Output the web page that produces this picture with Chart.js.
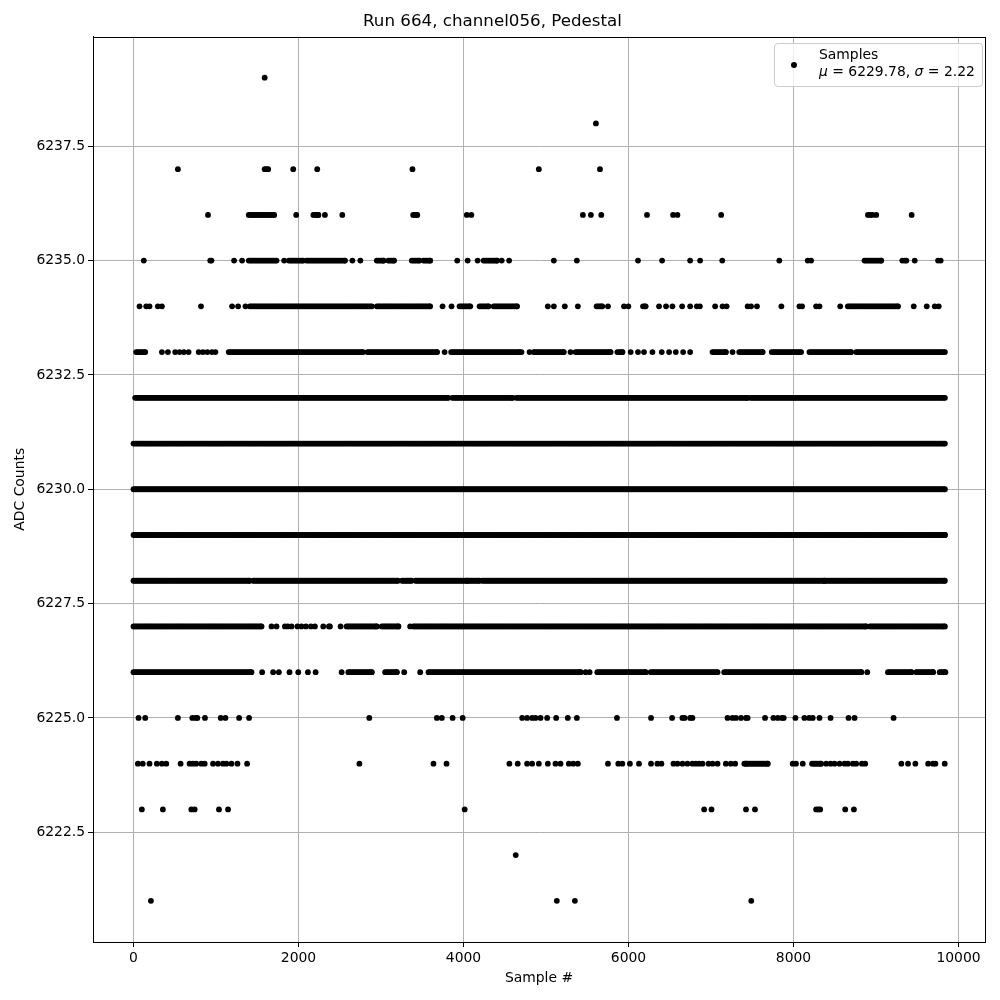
<!DOCTYPE html>
<html>
<head>
<meta charset="utf-8">
<script src="https://cdn.jsdelivr.net/npm/chart.js@4.4.1/dist/chart.umd.min.js"></script>
<style>
  html, body { margin: 0; padding: 0; background: #fff; }
  #wrap { position: relative; width: 1000px; height: 1000px; }
  #legend { position: absolute; left: 774px; top: 43px; width: 209px; height: 44px;
    border: 1px solid #cccccc; border-radius: 4px; background: rgba(255,255,255,0.8);
    font-family: "DejaVu Sans", sans-serif; font-size: 13.9px; color: #000; box-sizing: border-box; }
  #legend .dot { position: absolute; left: 16px; top: 18px; width: 6px; height: 6px; border-radius: 50%; background: #000; }
  #legend .l1 { position: absolute; left: 44px; top: 2px; white-space: nowrap; }
  #legend .l2 { position: absolute; left: 44px; top: 19px; white-space: nowrap; }
</style>
</head>
<body>
<div id="wrap">
  <canvas id="c" width="1000" height="1000"></canvas>
  <div id="legend"><span class="dot"></span><span class="l1">Samples</span><span class="l2"><i>μ</i> = 6229.78, <i>σ</i> = 2.22</span></div>
</div>
<script>
// ---- tick labels ----
const xTickValues = [0, 2000, 4000, 6000, 8000, 10000];
const yTickValues = [6222.5, 6225.0, 6227.5, 6230.0, 6232.5, 6235.0, 6237.5];

// ---- ADC levels (counts) ----
const levels = [6221, 6222, 6223, 6224, 6225, 6226, 6227, 6228, 6229, 6230, 6231, 6232, 6233, 6234, 6235, 6236, 6237, 6238, 6239];

// isolated samples read per level (sample #)
const dots6239 = [1590];
const dots6238 = [5605];
const dots6237 = [538, 1590, 1610, 1632, 1936, 2227, 3381, 4913, 5654];
const dots6236 = [903, 1972, 2320, 2531, 4040, 4095, 5447, 5544, 5670, 6224, 6540, 6593, 7123, 8902, 8930, 8955, 9003, 9432];
const dots6235 = [125, 930, 945, 1219, 1316, 1826, 2653, 2750, 3924, 4050, 4171, 4463, 4553, 5095, 5374, 6115, 6407, 6747, 6868, 7136, 7828, 8172, 8213, 9319, 9350, 9368, 9469, 9752, 9784];
const dots6234 = [73, 154, 194, 295, 344, 818, 1195, 1268, 1357, 3746, 3855, 5022, 5095, 5228, 5386, 5751, 5945, 5998, 6370, 6455, 6532, 6650, 6747, 6828, 6865, 7050, 7140, 7189, 7444, 7485, 7557, 7853, 8072, 8104, 8274, 8315, 8566, 9457, 9615, 9712, 9760];
const dots6233 = [344, 417, 505, 559, 611, 668, 790, 842, 895, 951, 993, 3771, 4703, 4800, 5297, 6026, 6115, 6188, 6290, 6403, 6492, 6573, 6662, 6747, 7261];
const dots6232 = [];
const dots6231 = [];
const dots6230 = [];
const dots6229 = [];
const dots6228 = [];
const dots6227 = [1673, 1734, 1835, 1870, 1916, 1987, 2036, 2090, 2150, 2199, 2300, 2369, 2381, 2510, 3353];
const dots6226 = [1559, 1692, 1762, 1891, 1997, 2114, 2208, 2523, 3281, 3475, 5480, 5528, 8894];
const dots6225 = [61, 142, 538, 713, 753, 774, 866, 1057, 1114, 1280, 1401, 2858, 3677, 3737, 3868, 3990, 4711, 4771, 4832, 4872, 4933, 5014, 5123, 5264, 5374, 5860, 6273, 6528, 6653, 6680, 6747, 6775, 7200, 7260, 7302, 7363, 7424, 7444, 7655, 7756, 7810, 7860, 7881, 8023, 8132, 8190, 8233, 8315, 8449, 8667, 8740, 9213];
const dots6224 = [53, 112, 194, 283, 344, 397, 571, 680, 721, 761, 822, 863, 964, 1024, 1085, 1126, 1187, 1260, 1377, 2738, 3636, 3794, 4556, 4657, 4771, 4832, 4913, 5022, 5115, 5176, 5277, 5330, 5386, 5751, 5876, 5925, 6017, 6127, 6273, 6350, 6399, 6545, 6593, 6654, 6714, 6775, 6816, 6856, 6897, 6970, 7018, 7079, 7180, 7240, 7293, 7424, 7990, 8030, 8112, 8396, 8449, 8497, 8558, 8619, 8659, 8720, 8760, 8829, 8869, 9307, 9388, 9477, 9632, 9690, 9720, 9833];
const dots6223 = [101, 356, 701, 741, 1036, 1146, 4014, 6917, 7006, 7424, 7533, 8274, 8300, 8323, 8627, 8732];
const dots6222 = [4633];
const dots6221 = [211, 5131, 5350, 7488];

// densely packed stretches of samples read per level [first, last]
const runs6236 = [[1397, 1705], [2180, 2240], [3390, 3440]];
const runs6235 = [[1397, 1734], [1883, 2057], [2098, 2564], [2949, 3030], [3090, 3159], [3373, 3466], [3515, 3596], [4244, 4405], [8861, 9063]];
const runs6234 = [[1410, 2888], [2949, 3596], [3952, 4082], [4195, 4304], [4365, 4649], [5613, 5682], [6176, 6208], [8659, 9267]];
const runs6233 = [[32, 142], [1154, 2780], [2835, 3680], [3850, 4680], [4850, 5216], [5358, 5784], [5865, 5926], [7018, 7180], [7342, 7626], [7736, 8092], [8193, 8699], [8760, 9835]];
const runs6232 = [[20, 3815], [3865, 4595], [4640, 7440], [7480, 9835]];
const runs6231 = [[0, 9835]];
const runs6230 = [[0, 9835]];
const runs6229 = [[0, 7590], [7615, 9835]];
const runs6228 = [[0, 1405], [1450, 3205], [3255, 3370], [3420, 4045], [4060, 4195], [4230, 8370], [8385, 9835]];
const runs6227 = [[0, 1552], [2583, 2949], [3009, 3211], [3393, 8880], [8925, 9835]];
const runs6226 = [[0, 1430], [2604, 2888], [3050, 3191], [3576, 5419], [5622, 6208], [6269, 7079], [7160, 8821], [9145, 9429], [9489, 9692], [9772, 9841]];
const runs6225 = [];
const runs6224 = [[7404, 7688], [8225, 8335]];
const runs6223 = [];
const runs6222 = [];
const runs6221 = [];
const runs6237 = [];
const runs6238 = [];
const runs6239 = [];

const dotsByLevel = {6221: dots6221, 6222: dots6222, 6223: dots6223, 6224: dots6224, 6225: dots6225, 6226: dots6226, 6227: dots6227, 6228: dots6228, 6229: dots6229, 6230: dots6230, 6231: dots6231, 6232: dots6232, 6233: dots6233, 6234: dots6234, 6235: dots6235, 6236: dots6236, 6237: dots6237, 6238: dots6238, 6239: dots6239};
const runsByLevel = {6221: runs6221, 6222: runs6222, 6223: runs6223, 6224: runs6224, 6225: runs6225, 6226: runs6226, 6227: runs6227, 6228: runs6228, 6229: runs6229, 6230: runs6230, 6231: runs6231, 6232: runs6232, 6233: runs6233, 6234: runs6234, 6235: runs6235, 6236: runs6236, 6237: runs6237, 6238: runs6238, 6239: runs6239};

// build scatter table: runs are sampled at the marker pitch
const RUN_PITCH = 20;
const points = [];
levels.forEach(lv => {
  dotsByLevel[lv].forEach(s => points.push({x: s, y: lv}));
  runsByLevel[lv].forEach(([a, b]) => {
    for (let s = a; s <= b; s += RUN_PITCH) points.push({x: s, y: lv});
    points.push({x: b, y: lv});
  });
});

const tickFont = {family: 'DejaVu Sans', size: 13.9};
const framePlugin = {
  id: 'frame',
  afterDraw(chart) {
    const {ctx, chartArea: a} = chart;
    ctx.save();
    ctx.strokeStyle = '#000';
    ctx.lineWidth = 1;
    ctx.strokeRect(Math.round(a.left) + 0.5, Math.round(a.top) + 0.5, Math.round(a.right - a.left), Math.round(a.bottom - a.top));
    ctx.restore();
  }
};

new Chart(document.getElementById('c'), {
  type: 'scatter',
  data: {
    datasets: [{
      label: 'Samples',
      data: points,
      backgroundColor: '#000',
      borderColor: '#000',
      borderWidth: 0,
      pointRadius: 2.9,
      pointHoverRadius: 2.9
    }]
  },
  options: {
    responsive: false,
    animation: false,
    events: [],
    layout: {padding: {left: 0, right: 15, top: 0, bottom: 0}},
    plugins: {
      legend: {display: false},
      tooltip: {enabled: false},
      title: {
        display: true,
        text: 'Run 664, channel056, Pedestal',
        color: '#000',
        font: {family: 'DejaVu Sans', size: 16.7, weight: 'normal'},
        padding: {top: 12, bottom: 4.5}
      }
    },
    scales: {
      x: {
        type: 'linear',
        min: -491,
        max: 10321,
        afterBuildTicks: s => { s.ticks = xTickValues.map(v => ({value: v})); },
        afterFit: s => { s.height = 58; },
        ticks: {color: '#000', font: tickFont, padding: 3, maxRotation: 0, autoSkip: false, callback: v => String(v)},
        grid: {color: '#b0b0b0', lineWidth: 1, tickColor: '#000', tickLength: 5, tickWidth: 1},
        border: {display: true, color: '#000', width: 1},
        title: {display: true, text: 'Sample #', color: '#000', font: tickFont, padding: {top: 4, bottom: 13}}
      },
      y: {
        type: 'linear',
        min: 6220.1,
        max: 6239.9,
        afterBuildTicks: s => { s.ticks = yTickValues.map(v => ({value: v})); },
        afterFit: s => { s.width = 93; },
        ticks: {color: '#000', font: tickFont, padding: 3, autoSkip: false, callback: v => Number(v).toFixed(1)},
        grid: {color: '#b0b0b0', lineWidth: 1, tickColor: '#000', tickLength: 5, tickWidth: 1},
        border: {display: true, color: '#000', width: 1},
        title: {display: true, text: 'ADC Counts', color: '#000', font: tickFont, padding: {top: 11.7, bottom: 4}}
      }
    }
  },
  plugins: [framePlugin]
});
</script>
</body>
</html>
